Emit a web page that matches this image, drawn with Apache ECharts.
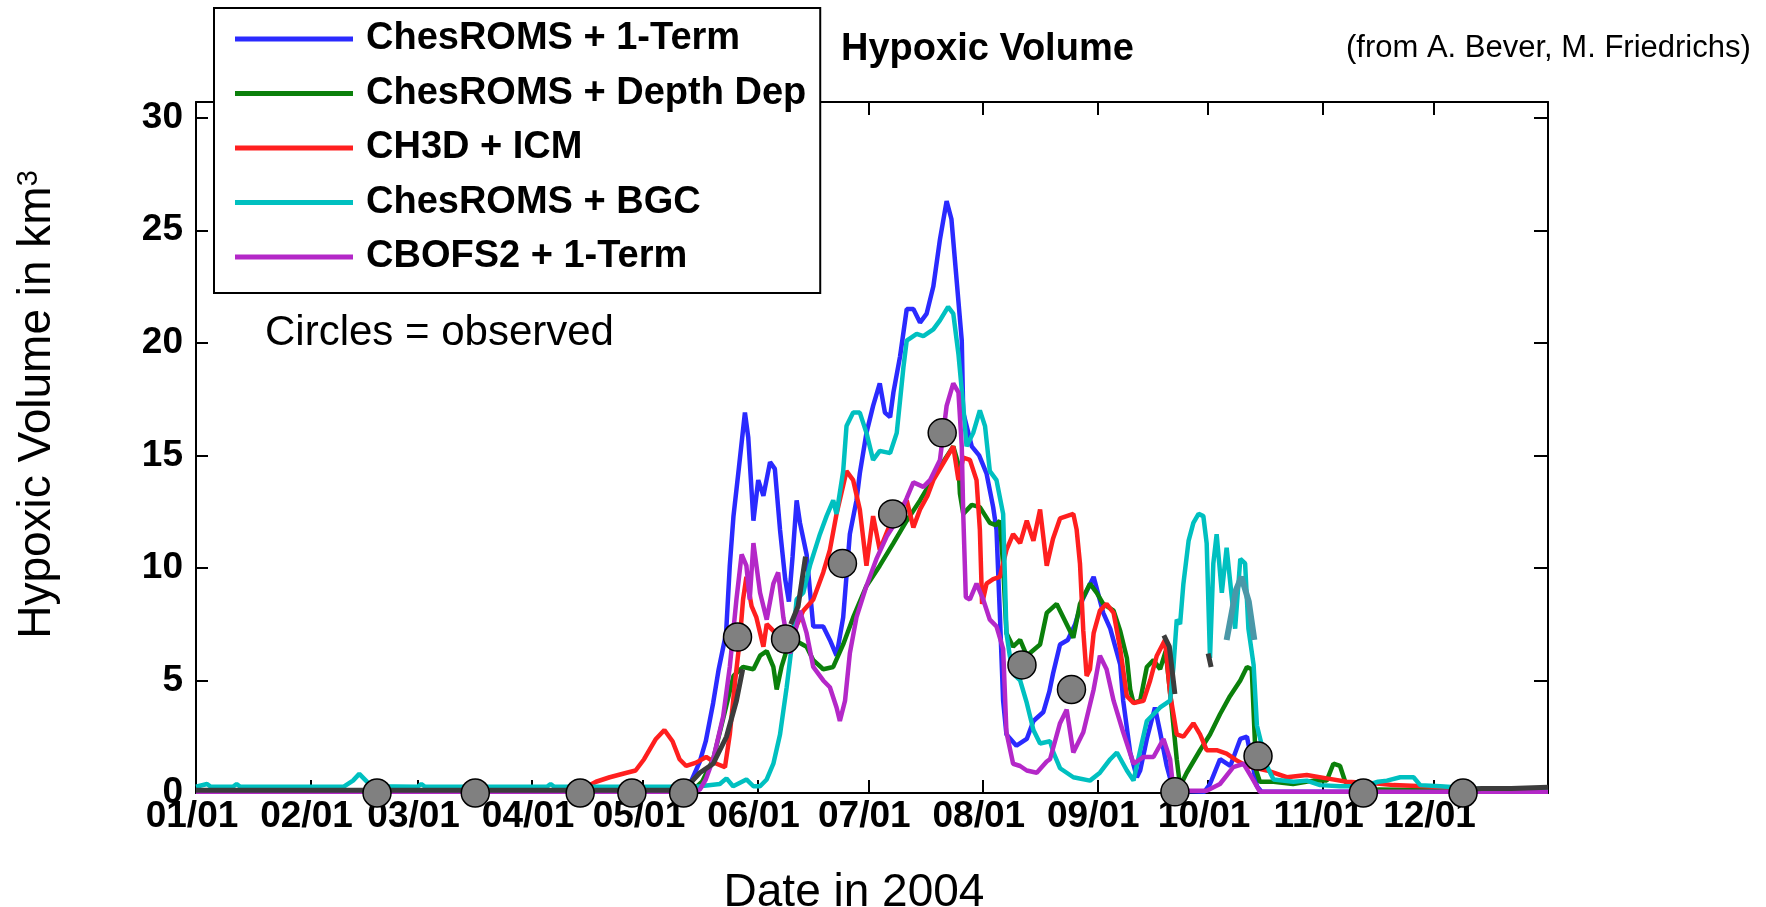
<!DOCTYPE html>
<html>
<head>
<meta charset="utf-8">
<title>Hypoxic Volume 2004</title>
<script src="https://cdn.jsdelivr.net/npm/echarts@6/dist/echarts.min.js"></script>
<style>
  html, body { margin: 0; padding: 0; background: #fff; }
  #chart { width: 1766px; height: 907px; }
</style>
</head>
<body>
<div id="chart"></div>
<script>
// Day-of-year (2004, leap year) at which each month starts, and its tick label
const monthStarts = [0, 31, 60, 91, 121, 152, 182, 213, 244, 274, 305, 335];
const monthLabels = ['01/01', '02/01', '03/01', '04/01', '05/01', '06/01',
                     '07/01', '08/01', '09/01', '10/01', '11/01', '12/01'];
const yTicks = [0, 5, 10, 15, 20, 25, 30];

const seriesNames = ['ChesROMS + 1-Term', 'ChesROMS + Depth Dep', 'CH3D + ICM',
                     'ChesROMS + BGC', 'CBOFS2 + 1-Term'];

// Modelled hypoxic volume, km^3, as [day of year, volume]
const chesRoms1Term = [[0,0.05],[130,0.05],[134,0.5],[136.4,1.4],[138,2.3],[140,4.0],[141.5,5.5],[143.5,7.1],[144.5,10.1],[145.5,12.3],[147,14.5],[148.6,16.9],[149.5,15.8],[150.9,12.1],[152.2,13.9],[153.6,13.2],[155.4,14.7],[156.7,14.4],[158.1,11.7],[159.5,9.5],[160.5,8.5],[161.5,10.5],[162.6,13.0],[163.5,12.0],[165.3,10.6],[167.1,7.4],[169.8,7.4],[171.6,6.8],[173.4,6.1],[175.2,7.8],[177,11.5],[178.8,13.0],[179.7,14.2],[181.5,16.0],[183.3,17.2],[185.1,18.2],[186.5,16.9],[187.9,16.7],[188.8,17.8],[190.6,19.4],[192.4,21.5],[194.2,21.5],[196,20.9],[197.8,21.3],[199.6,22.5],[201.4,24.6],[203.2,26.3],[204.5,25.5],[205.9,22.8],[207.3,20.1],[207.7,16.9],[210,15.4],[212,15.0],[214,14.2],[215.8,12.7],[216.7,11.7],[217.6,8.0],[218.5,4.1],[219.4,2.6],[222.1,2.1],[224.9,2.4],[226.7,3.2],[229.4,3.6],[231,4.5],[232,5.3],[233.9,6.6],[236,6.8],[238,7.5],[240,8.6],[243,9.6],[245.6,8.0],[247.5,7.3],[250.2,5.7],[251,4.1],[252.9,1.8],[254.7,0.7],[255.6,1.0],[257.4,2.4],[259.6,3.8],[261,2.7],[262.8,1.2],[264.6,0.1],[273,0.05],[274.5,0.4],[277.2,1.5],[280,1.2],[282.7,2.4],[284.5,2.5],[287.2,0.3],[288.5,0.05],[366,0.05]];

const chesRomsDepthDep = [[0,0.05],[134,0.05],[137,0.5],[140,1.5],[143,3.5],[145.5,5.2],[148.1,5.6],[150.9,5.5],[152.7,6.1],[154.5,6.3],[156.3,5.6],[157.2,4.6],[158.5,5.6],[160,6.4],[162,6.8],[165.3,6.5],[167.1,5.9],[169.8,5.5],[172.5,5.6],[175.2,6.6],[177.9,7.8],[181.5,9.2],[185.1,10.1],[188.8,11.1],[192.4,12.1],[196,13.0],[199.6,14.0],[203,14.9],[205,15.4],[206.4,14.6],[206.8,13.3],[207.7,12.4],[210,12.8],[212.2,12.7],[214.9,12.0],[216.5,11.9],[217.6,12.1],[218.5,10.1],[219.4,7.1],[221.2,6.5],[223.1,6.8],[224.9,6.1],[228.5,6.6],[230.3,8.0],[233,8.4],[235.7,7.5],[237.5,6.9],[239.3,8.4],[242,9.3],[243.8,8.9],[245.6,8.4],[248.4,8.1],[250.2,7.2],[252,6.0],[252.9,4.6],[253.8,4.0],[255.6,4.1],[257.4,5.6],[259.2,5.9],[261,5.5],[262.5,6.3],[264,4.0],[265.5,1.5],[266.4,0.3],[268.2,0.9],[271.8,1.9],[274.5,2.6],[277.2,3.5],[279.9,4.3],[282.7,5.0],[284.5,5.6],[285.8,5.5],[287,1.0],[288,0.5],[291.7,0.5],[297,0.4],[302.5,0.55],[306.1,0.55],[307.9,1.3],[309.7,1.2],[311.1,0.5],[314.2,0.3],[320,0.15],[366,0.05]];

const ch3dIcm = [[0,0.1],[16,0.1],[16.5,0.25],[17,0.1],[29,0.1],[29.5,0.25],[30,0.1],[67,0.1],[67.5,0.25],[68,0.1],[100,0.1],[106,0.3],[108.3,0.5],[112,0.7],[116.6,0.9],[119,1.0],[121.3,1.5],[124.5,2.4],[126.8,2.8],[129,2.3],[130.9,1.5],[132.7,1.2],[135.4,1.35],[138.1,1.6],[140.9,1.3],[143.2,1.15],[144.5,2.6],[145.9,4.9],[147.2,6.8],[148.1,8.6],[149,9.6],[150.4,8.3],[151.7,7.8],[153.6,6.5],[154.5,7.5],[156.3,7.2],[158.1,7.1],[161.7,7.1],[164.4,8.1],[167.1,8.6],[169.8,9.8],[171.6,10.8],[173.4,12.4],[176.1,14.3],[177.9,13.9],[179.7,12.6],[181.5,10.1],[183.3,12.3],[185.1,10.8],[188.8,12.3],[192.4,13.0],[194.2,11.8],[196,12.6],[198,13.2],[199.6,13.9],[203.2,14.9],[205,15.4],[206.4,13.9],[207.7,14.9],[209.5,14.8],[211.3,13.9],[212.2,11.7],[212.8,8.4],[214,9.3],[215.8,9.5],[217.6,9.6],[219.4,10.8],[221.2,11.5],[223.1,11.1],[224.9,12.1],[226.7,11.2],[228.5,12.6],[230.3,10.1],[232,11.3],[233.9,12.2],[235.7,12.3],[237.5,12.4],[238.4,11.7],[239.3,10.2],[240.2,7.2],[241.1,5.2],[242,5.5],[243,7.1],[244.7,8.1],[246.5,8.4],[248.4,8.0],[250.2,6.4],[252,4.3],[253.8,4.0],[256.5,4.1],[258.3,5.0],[260.1,6.1],[262.3,6.8],[263.7,4.4],[265.5,2.6],[267.3,2.5],[270,3.1],[271.8,2.6],[273.6,1.9],[276.3,1.9],[279,1.75],[281.7,1.45],[284.5,1.2],[289.9,1.0],[291.7,0.9],[295.3,0.7],[300.7,0.8],[306.1,0.65],[311.5,0.5],[318.8,0.43],[324.2,0.35],[332.3,0.3],[345.8,0.2],[366,0.1]];

const chesRomsBgc = [[0,0.28],[3,0.4],[4,0.28],[10,0.28],[11,0.4],[12,0.28],[40,0.28],[42.5,0.55],[44.2,0.85],[46,0.55],[47.5,0.3],[60,0.28],[61,0.4],[62,0.28],[95,0.28],[96,0.4],[97,0.28],[130,0.28],[136.4,0.3],[141.8,0.4],[143.6,0.65],[145.4,0.3],[149,0.6],[150.9,0.3],[152.7,0.3],[154.5,0.6],[156.3,1.3],[158.1,2.6],[159.9,4.7],[161.7,7.1],[162.6,8.6],[164.4,8.9],[166.2,10.1],[168.9,11.5],[170.7,12.3],[172.5,13.0],[173.4,12.4],[175.2,14.3],[176.1,16.3],[177.9,16.9],[179.7,16.9],[181.5,16.0],[183.3,14.8],[185.1,15.2],[187.9,15.1],[189.7,16.0],[191.5,18.9],[192.4,20.1],[195.1,20.4],[196.9,20.3],[199.6,20.6],[201.4,21.0],[203.6,21.6],[205,21.3],[206.4,19.5],[207.7,17.2],[208.6,15.4],[210.4,16.0],[212.2,17.0],[213.6,16.3],[214.9,14.3],[216.7,13.9],[218.5,12.4],[219.4,7.1],[220.3,6.1],[221.2,5.3],[223.1,5.0],[224.9,4.0],[226.7,2.8],[228.5,2.2],[231.2,2.3],[232.1,1.8],[233.9,1.1],[237.5,0.7],[242,0.55],[244.7,0.9],[247.5,1.5],[249.3,1.8],[252,1.0],[253.8,0.55],[255.6,1.9],[257.4,3.2],[259.2,3.5],[261,3.8],[263.7,4.1],[264.6,5.6],[265.5,7.7],[266.4,7.5],[267.3,9.3],[268.7,11.2],[270,12.0],[271.4,12.4],[272.7,12.3],[273.6,11.1],[274.5,6.0],[275.4,10.2],[276.3,11.5],[277.7,8.9],[279,10.9],[280.4,8.7],[281.3,7.3],[282.7,10.4],[284,10.2],[284.9,7.3],[286.3,5.7],[287.2,3.0],[288.1,2.4],[289.9,1.2],[291.7,0.6],[297.1,0.5],[300.7,0.55],[304.3,0.35],[309.7,0.3],[316,0.3],[320,0.5],[322.4,0.55],[326,0.7],[329.6,0.7],[331.4,0.35],[336.8,0.3],[345.8,0.2],[366,0.1]];

const cbofs21Term = [[0,0.05],[134,0.05],[136.4,0.15],[138,0.6],[140,1.5],[142.7,3.4],[144.5,5.6],[146.3,8.6],[147.7,10.6],[149,10.1],[149.9,8.6],[150.9,11.1],[152.7,8.9],[154.5,7.7],[156.3,9.3],[157.6,9.8],[159,7.8],[160.8,6.2],[161.7,6.8],[163.5,8.1],[165.3,7.1],[167.1,5.6],[169.8,5.0],[171.6,4.7],[173.4,3.8],[174.3,3.2],[175.7,4.1],[177,6.2],[178.8,7.8],[181.5,9.2],[184.2,10.4],[187,11.4],[189.7,12.1],[192.4,13.1],[194.2,13.8],[196.9,13.6],[198.7,13.9],[201.4,14.8],[203.2,17.2],[205,18.2],[206.4,17.8],[207.3,15.4],[207.7,12.4],[208.4,8.7],[209.5,8.6],[211.3,9.3],[213.1,8.6],[214.9,7.7],[216.7,7.4],[218.5,6.4],[219.4,2.7],[221.2,1.3],[223.1,1.2],[224.9,1.0],[227.6,0.9],[230.3,1.4],[231.2,1.5],[233.9,3.1],[235.7,3.7],[237.5,1.8],[240.2,2.7],[243,4.6],[244.7,6.1],[246.5,5.5],[248.4,4.1],[251,2.7],[253.8,1.3],[256.5,1.6],[259.2,1.6],[261.9,2.4],[263.7,1.5],[264.6,0.1],[273.6,0.1],[277.2,0.4],[280.8,1.15],[283.6,1.3],[286.3,0.55],[288,0.05],[366,0.05]];

// Interpolated observation trace (dark grey), only where it shows; null breaks the line
const observedTrace = [[0,0.12],[132,0.12],[136.4,0.9],[140,1.3],[143.6,2.5],[146.3,4.1],[148,5.5],null,
                       [161,7.5],[163,8.3],[165,10.5],null,
                       [262,7.0],[263.5,6.5],[265,4.4],null,
                       [274,6.2],[274.8,5.6],null,
                       [344,0.15],[348,0.2],[356,0.2],[366,0.25]];
const blendTrace = [[279,6.8],[281.5,9.0],[283,9.6],[285,8.5],[286.5,6.8]];

// Observed hypoxic volume (circles)
const obsDays   = [49, 75.6, 104, 118, 132, 146.6, 159.6, 175, 188.6, 202, 223.6, 237, 265, 287.5, 316, 343];
const obsValues = [0, 0, 0, 0, 0, 6.93, 6.84, 10.2, 12.4, 16.0, 5.69, 4.6, 0.05, 1.64, 0, 0];

const FONT = "'Liberation Sans', Arial, Helvetica, sans-serif";
const colors = ['#2a2aff', '#0b800b', '#ff1f1f', '#00c0c0', '#b428c8'];
const modelData = [chesRoms1Term, chesRomsDepthDep, ch3dIcm, chesRomsBgc, cbofs21Term];

const chart = echarts.init(document.getElementById('chart'), null, { renderer: 'canvas' });

const axisLineStyle = { color: '#000', width: 2 };
const tickStyle = { show: true, inside: true, length: 13, lineStyle: { color: '#000', width: 2 } };

const modelSeries = seriesNames.map((name, i) => ({
  name,
  type: 'line',
  data: modelData[i],
  color: colors[i],
  symbol: 'none',
  showSymbol: false,
  lineStyle: { color: colors[i], width: 4.5 },
  z: 2,
  silent: true
}));

const option = {
  animation: false,
  backgroundColor: '#fff',
  title: [
    { text: 'Hypoxic Volume', left: 841, top: 31, padding: 0,
      textStyle: { fontFamily: FONT, fontSize: 38, fontWeight: 'bold', color: '#000' } },
    { text: '(from A. Bever, M. Friedrichs)', left: 1346, top: 33, padding: 0,
      textStyle: { fontFamily: FONT, fontSize: 31, fontWeight: 'normal', color: '#000' } },
    { text: 'Circles = observed', left: 265, top: 312, padding: 0,
      textStyle: { fontFamily: FONT, fontSize: 42, fontWeight: 'normal', color: '#000' } }
  ],
  legend: {
    data: seriesNames,
    orient: 'vertical',
    left: 214,
    top: 8,
    padding: [12, 14, 17, 21],
    itemWidth: 118,
    itemHeight: 5,
    itemGap: 16.5,
    icon: 'rect',
    selectedMode: false,
    backgroundColor: '#fff',
    borderColor: '#000',
    borderWidth: 2,
    textStyle: { fontFamily: FONT, fontSize: 38, fontWeight: 'bold', color: '#000',
                 lineHeight: 38, padding: [0, 0, 0, 8] }
  },
  grid: { left: 196, right: 218, top: 102, bottom: 114, containLabel: false, outerBoundsMode: 'none' },
  xAxis: [
    {
      type: 'value', min: 0, max: 366, position: 'bottom',
      name: 'Date in 2004', nameLocation: 'middle', nameGap: 77,
      nameTextStyle: { fontFamily: FONT, fontSize: 46, color: '#000', padding: [0, 36, 0, 0] },
      axisLine: { show: true, onZero: false, lineStyle: axisLineStyle },
      axisTick: Object.assign({ customValues: monthStarts }, tickStyle),
      axisLabel: {
        customValues: monthStarts,
        formatter: v => { const k = monthStarts.indexOf(v); return k >= 0 ? monthLabels[k] : ''; },
        fontFamily: FONT, fontSize: 37, fontWeight: 'bold', color: '#000', margin: 5,
        padding: [0, 8, 0, 0]
      },
      splitLine: { show: false }
    },
    {
      type: 'value', min: 0, max: 366, position: 'top',
      axisLine: { show: true, onZero: false, lineStyle: axisLineStyle },
      axisTick: Object.assign({ customValues: monthStarts }, tickStyle),
      axisLabel: { show: false },
      splitLine: { show: false }
    }
  ],
  yAxis: [
    {
      type: 'value', min: 0, max: 30.7, position: 'left',
      name: 'Hypoxic Volume in km{sup|3}', nameLocation: 'middle', nameGap: 136,
      nameTextStyle: {
        fontFamily: FONT, fontSize: 46, color: '#000', padding: [0, 0, 0, 86],
        rich: { sup: { fontFamily: FONT, fontSize: 29, color: '#000', verticalAlign: 'top' } }
      },
      axisLine: { show: true, onZero: false, lineStyle: axisLineStyle },
      axisTick: Object.assign({ customValues: yTicks }, tickStyle, { length: 12 }),
      axisLabel: { customValues: yTicks, fontFamily: FONT, fontSize: 37, fontWeight: 'bold',
                   color: '#000', margin: 13 },
      splitLine: { show: false }
    },
    {
      type: 'value', min: 0, max: 30.7, position: 'right',
      axisLine: { show: true, onZero: false, lineStyle: axisLineStyle },
      axisTick: Object.assign({ customValues: yTicks }, tickStyle, { length: 14 }),
      axisLabel: { show: false },
      splitLine: { show: false }
    }
  ],
  series: modelSeries.concat([
    {
      name: 'observed trace', type: 'line', data: observedTrace, connectNulls: false,
      symbol: 'none', showSymbol: false, lineStyle: { color: '#3c3c3c', width: 5 }, z: 3, silent: true
    },
    {
      name: 'blend trace', type: 'line', data: blendTrace,
      symbol: 'none', showSymbol: false, lineStyle: { color: '#4a98a8', width: 6 }, z: 3, silent: true
    },
    {
      name: 'observed', type: 'scatter',
      data: obsDays.map((d, i) => [d, obsValues[i]]),
      symbol: 'circle', symbolSize: 28,
      itemStyle: { color: '#808080', borderColor: '#000', borderWidth: 1.5, opacity: 1 },
      z: 5, silent: true
    }
  ])
};

chart.setOption(option);
</script>
</body>
</html>
